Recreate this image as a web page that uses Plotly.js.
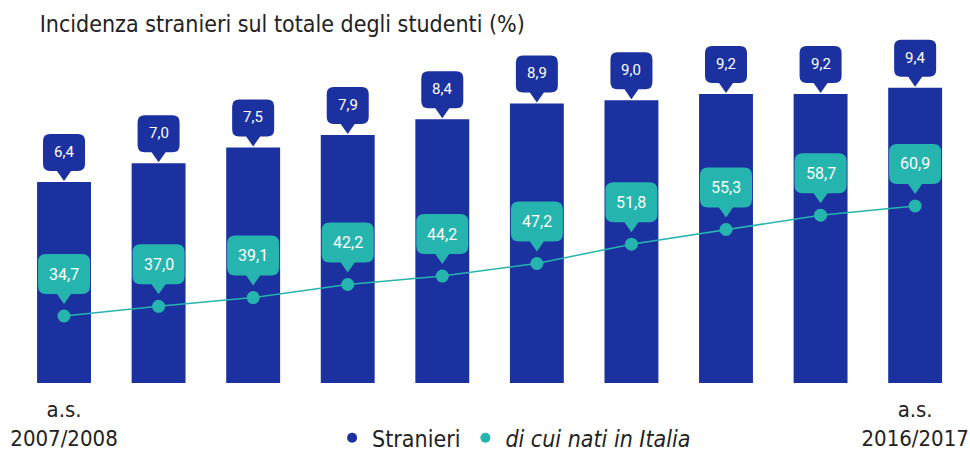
<!DOCTYPE html>
<html><head><meta charset="utf-8">
<script src="https://cdn.plot.ly/plotly-3.0.1.min.js"></script>
<style>html,body{margin:0;padding:0;background:#fff}</style>
</head><body><div id="chart" style="width:970px;height:454px"></div>
<script>
const categories = ['2007/2008','2008/2009','2009/2010','2010/2011','2011/2012','2012/2013','2013/2014','2014/2015','2015/2016','2016/2017'];
const stranieri = [6.4, 7.0, 7.5, 7.9, 8.4, 8.9, 9.0, 9.2, 9.2, 9.4];
const natiInItalia = [34.7, 37.0, 39.1, 42.2, 44.2, 47.2, 51.8, 55.3, 58.7, 60.9];
const tickLabels = ['a.s.<br>2007/2008', 'a.s.<br>2016/2017'];
const seriesNames = ['Stranieri', '<i>di cui nati in Italia</i>'];
const chartTitle = 'Incidenza stranieri sul totale degli studenti (%)';

const BLUE = '#1c31a0', TEAL = '#26b5ae', INK = '#222222';
const FONT = '"DejaVu Sans Condensed", "Liberation Sans", sans-serif';
const NUMFONT = 'Roboto, "Liberation Sans", Arial, sans-serif';
const idx = categories.map((c, i) => i);
const fmt = v => v.toFixed(1).replace('.', ',');

// callout shape (pixel units, y up, relative to anchor)
function callout(halfW, tip, base, top, tailHalf, r) {
  return 'M0,' + tip +
    ' L' + (-tailHalf) + ',' + base +
    ' L' + (-halfW + r) + ',' + base +
    ' Q' + (-halfW) + ',' + base + ' ' + (-halfW) + ',' + (base + r) +
    ' L' + (-halfW) + ',' + (top - r) +
    ' Q' + (-halfW) + ',' + top + ' ' + (-halfW + r) + ',' + top +
    ' L' + (halfW - r) + ',' + top +
    ' Q' + halfW + ',' + top + ' ' + halfW + ',' + (top - r) +
    ' L' + halfW + ',' + (base + r) +
    ' Q' + halfW + ',' + base + ' ' + (halfW - r) + ',' + base +
    ' L' + tailHalf + ',' + base + ' Z';
}
const bluePath = callout(21, 1, 11, 48, 7, 7);
const tealPath = callout(26, 12, 22, 62, 7, 8);

const shapes = [], annotations = [];
idx.forEach(i => {
  shapes.push({type: 'path', xref: 'x', yref: 'y', xsizemode: 'pixel', ysizemode: 'pixel',
    xanchor: i, yanchor: stranieri[i], path: bluePath, fillcolor: BLUE, line: {width: 0}, layer: 'above'});
  annotations.push({x: i, y: stranieri[i], xref: 'x', yref: 'y', text: fmt(stranieri[i]), showarrow: false,
    yanchor: 'middle', yshift: 30, font: {family: NUMFONT, size: 15, color: '#ffffff'}});
  shapes.push({type: 'path', xref: 'x', yref: 'y2', xsizemode: 'pixel', ysizemode: 'pixel',
    xanchor: i, yanchor: natiInItalia[i], path: tealPath, fillcolor: TEAL, line: {width: 0}, layer: 'above'});
  annotations.push({x: i, y: natiInItalia[i], xref: 'x', yref: 'y2', text: fmt(natiInItalia[i]), showarrow: false,
    yanchor: 'middle', yshift: 42, font: {family: NUMFONT, size: 16, color: '#ffffff'}});
});

const data = [
  {type: 'bar', x: idx, y: stranieri, marker: {color: BLUE}, width: 0.57, showlegend: false, hoverinfo: 'skip'},
  {type: 'scatter', mode: 'lines+markers', x: idx, y: natiInItalia, yaxis: 'y2',
    line: {color: TEAL, width: 1.5}, marker: {color: TEAL, size: 13}, showlegend: false, hoverinfo: 'skip'},
  {type: 'scatter', mode: 'markers', x: [null], y: [null], name: seriesNames[0], marker: {color: BLUE, size: 10}},
  {type: 'scatter', mode: 'markers', x: [null], y: [null], name: seriesNames[1], marker: {color: TEAL, size: 10}}
];

const layout = {
  width: 970, height: 454,
  margin: {l: 0, r: 0, t: 30, b: 71, autoexpand: false},
  paper_bgcolor: '#ffffff', plot_bgcolor: '#ffffff',
  title: {text: chartTitle, xref: 'container', yref: 'container', x: 0.041, xanchor: 'left', y: 0.948, yanchor: 'middle',
    font: {family: FONT, size: 23, color: INK}},
  xaxis: {range: [-0.677, 9.58], showgrid: false, zeroline: false, showline: false,
    tickmode: 'array', tickvals: [0, idx.length - 1], ticktext: tickLabels,
    ticks: 'outside', ticklen: 7, tickcolor: 'rgba(0,0,0,0)', ticklabeloverflow: 'allow',
    tickfont: {family: FONT, size: 22, color: INK}},
  yaxis: {range: [0, 11.24], visible: false},
  yaxis2: {range: [18.75, 102.8], overlaying: 'y', visible: false},
  showlegend: true,
  legend: {orientation: 'h', x: 0.53, xanchor: 'center', y: -0.155, yanchor: 'middle',
    font: {family: FONT, size: 23, color: INK}, itemwidth: 30},
  shapes: shapes,
  annotations: annotations
};

Plotly.newPlot('chart', data, layout, {displayModeBar: false, staticPlot: true});
</script>
</body></html>
